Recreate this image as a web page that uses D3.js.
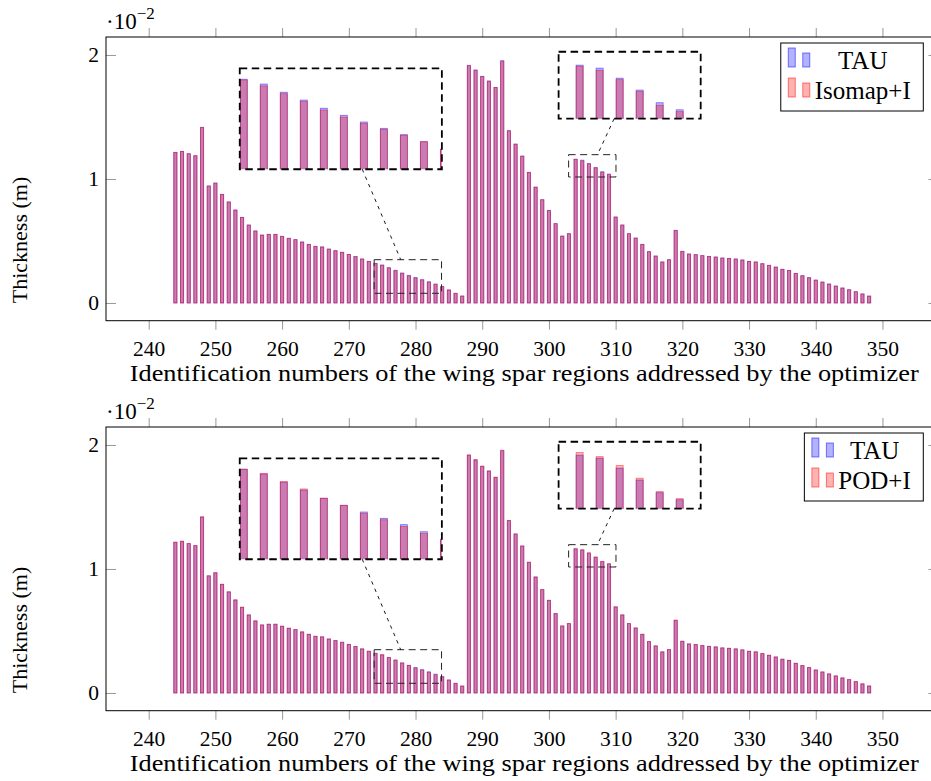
<!DOCTYPE html>
<html>
<head>
<meta charset="utf-8">
<script src="https://cdn.jsdelivr.net/npm/d3@7"></script>
<style>
  body { margin: 0; background: #fff; }
  svg { display: block; font-family: "Liberation Serif", "DejaVu Serif", serif; }
</style>
</head>
<body>
<div id="chart"></div>
<script>
// region ids 244..348, thickness in 1e-2 m
const regions = d3.range(244, 349)

const tau = [
  1.215, 1.223, 1.204, 1.188, 1.417, 0.944, 0.968, 0.876, 0.815, 0.750,
  0.691, 0.629, 0.581, 0.548, 0.554, 0.554, 0.538, 0.522, 0.511, 0.492,
  0.473, 0.457, 0.452, 0.435, 0.422, 0.409, 0.392, 0.374, 0.355, 0.336,
  0.320, 0.307, 0.285, 0.264, 0.242, 0.223, 0.205, 0.188, 0.171, 0.152,
  0.132, 0.105, 0.078, 0.056, 1.917, 1.879, 1.828, 1.790, 1.739, 1.954,
  1.390, 1.282, 1.185, 1.054, 0.935, 0.833, 0.747, 0.640, 0.540, 0.559,
  1.160, 1.152, 1.125, 1.093, 1.059, 1.040, 0.694, 0.629, 0.559, 0.524,
  0.473, 0.414, 0.379, 0.331, 0.349, 0.586, 0.417, 0.395, 0.390, 0.382,
  0.376, 0.371, 0.363, 0.360, 0.355, 0.347, 0.336, 0.331, 0.317, 0.304,
  0.290, 0.272, 0.263, 0.239, 0.220, 0.204, 0.185, 0.169, 0.153, 0.137,
  0.121, 0.107, 0.091, 0.073, 0.056
]

const isomap = [
  1.213, 1.222, 1.203, 1.187, 1.414, 0.943, 0.966, 0.875, 0.814, 0.749,
  0.690, 0.628, 0.580, 0.547, 0.553, 0.553, 0.537, 0.521, 0.510, 0.491,
  0.472, 0.456, 0.451, 0.434, 0.421, 0.408, 0.391, 0.373, 0.354, 0.335,
  0.318, 0.302, 0.281, 0.260, 0.237, 0.218, 0.201, 0.185, 0.169, 0.152,
  0.131, 0.105, 0.078, 0.056, 1.913, 1.877, 1.826, 1.789, 1.737, 1.949,
  1.388, 1.280, 1.184, 1.052, 0.933, 0.832, 0.746, 0.639, 0.539, 0.558,
  1.157, 1.146, 1.121, 1.089, 1.052, 1.035, 0.692, 0.628, 0.558, 0.523,
  0.472, 0.413, 0.378, 0.330, 0.348, 0.584, 0.416, 0.394, 0.389, 0.381,
  0.375, 0.370, 0.362, 0.359, 0.354, 0.346, 0.335, 0.330, 0.316, 0.303,
  0.289, 0.271, 0.262, 0.238, 0.219, 0.203, 0.184, 0.168, 0.152, 0.136,
  0.120, 0.106, 0.090, 0.072, 0.055
]

const pod = [
  1.217, 1.224, 1.205, 1.189, 1.422, 0.945, 0.972, 0.877, 0.816, 0.751,
  0.692, 0.630, 0.582, 0.549, 0.555, 0.555, 0.539, 0.523, 0.512, 0.493,
  0.474, 0.458, 0.453, 0.436, 0.423, 0.409, 0.392, 0.374, 0.356, 0.337,
  0.320, 0.309, 0.287, 0.267, 0.242, 0.223, 0.201, 0.184, 0.166, 0.147,
  0.130, 0.104, 0.078, 0.056, 1.921, 1.883, 1.830, 1.791, 1.741, 1.958,
  1.392, 1.283, 1.186, 1.055, 0.936, 0.834, 0.748, 0.641, 0.541, 0.560,
  1.167, 1.156, 1.132, 1.098, 1.062, 1.043, 0.695, 0.630, 0.560, 0.525,
  0.474, 0.415, 0.380, 0.332, 0.350, 0.588, 0.418, 0.396, 0.391, 0.383,
  0.377, 0.372, 0.364, 0.361, 0.356, 0.348, 0.337, 0.332, 0.318, 0.305,
  0.291, 0.273, 0.264, 0.240, 0.221, 0.205, 0.186, 0.170, 0.154, 0.138,
  0.122, 0.108, 0.092, 0.074, 0.057
]

const xTicks = [240, 250, 260, 270, 280, 290, 300, 310, 320, 330, 340, 350]
const yTicks = [0, 1, 2]

const xLabel = "Identification numbers of the wing spar regions addressed by the optimizer"
const yLabel = "Thickness (m)"

// spy windows: centre of magnified area, its size, and where the magnified copy sits (data units)
const spies = [
  {cx: 278.85, cy: 0.2135, w: 10.1, h: 0.271, tx: 268.8, ty: 1.485},
  {cx: 306.5, cy: 1.106, w: 7.1, h: 0.18, tx: 312.1, ty: 1.756}
]
const mag = 3

const panels = [
  {top: 0, name: "Isomap+I", values: isomap},
  {top: 390, name: "POD+I", values: pod}
]

const width = 931
const height = 781
const margin = {top: 37, right: 938.5, bottom: 320.7, left: 106}

const blue = "rgb(0,0,255)"
const red = "rgb(255,0,0)"

const svg = d3.select("#chart").append("svg")
  .attr("width", width)
  .attr("height", height)

const x = d3.scaleLinear().domain([233.6, 358.4]).range([margin.left, margin.right])
const y = d3.scaleLinear().domain([-0.143, 2.145]).range([margin.bottom, margin.top])

const drawBars = (g, xs, ys, vals, color, w) => {
  g.selectAll(null)
    .data(regions)
    .join("rect")
    .attr("x", (d) => xs(d) - w / 2)
    .attr("width", w)
    .attr("y", (d, i) => ys(vals[i]))
    .attr("height", (d, i) => ys(0) - ys(vals[i]))
    .attr("fill", color)
    .attr("fill-opacity", 0.3)
    .attr("stroke", color)
    .attr("stroke-opacity", 0.5)
    .attr("stroke-width", 0.8)
}

panels.forEach((p, pi) => {
  const g = svg.append("g").attr("transform", `translate(0, ${p.top})`)

  // main bars
  const bars = g.append("g")
  drawBars(bars, x, y, tau, blue, 3.2)
  drawBars(bars, x, y, p.values, red, 3.2)

  // axes
  const gray = "#8c8c8c"
  const styleTicks = (a) => a
    .call((a) => a.select(".domain").remove())
    .call((a) => a.selectAll(".tick line").attr("stroke", gray).attr("stroke-width", 0.9))
    .attr("font-family", null)

  g.append("g")
    .attr("transform", `translate(0, ${margin.bottom})`)
    .call(d3.axisBottom(x).tickValues(xTicks).tickSize(9).tickPadding(11))
    .call(styleTicks)
    .attr("font-size", 21.5)
    .selectAll("text").attr("fill", "#000")

  g.append("g")
    .attr("transform", `translate(0, ${margin.top})`)
    .call(d3.axisTop(x).tickValues(xTicks).tickSize(9).tickFormat(""))
    .call(styleTicks)

  g.append("g")
    .attr("transform", `translate(${margin.left}, 0)`)
    .call(d3.axisLeft(y).tickValues(yTicks).tickSize(-10).tickPadding(7).tickFormat(d3.format("d")))
    .call(styleTicks)
    .attr("font-size", 21.5)
    .selectAll("text").attr("fill", "#000")

  g.append("g")
    .attr("transform", `translate(${margin.right}, 0)`)
    .call(d3.axisRight(y).tickValues(yTicks).tickSize(-10).tickFormat(""))
    .call(styleTicks)

  g.append("rect")
    .attr("x", margin.left)
    .attr("y", margin.top)
    .attr("width", margin.right - margin.left)
    .attr("height", margin.bottom - margin.top)
    .attr("fill", "none")
    .attr("stroke", "#000")
    .attr("stroke-width", 1)

  // scale factor label
  const sf = g.append("text")
    .attr("x", 106)
    .attr("y", 29)
    .attr("font-size", 23)
  sf.append("tspan").text("·10")
  sf.append("tspan").attr("font-size", 17).attr("dy", -10).text("−2")

  // spies
  spies.forEach((s, si) => {
    const sx0 = x(s.cx - s.w / 2), sx1 = x(s.cx + s.w / 2)
    const sy0 = y(s.cy + s.h / 2), sy1 = y(s.cy - s.h / 2)
    const bw = (sx1 - sx0) * mag, bh = (sy1 - sy0) * mag
    const bcx = x(s.tx), bcy = y(s.ty)
    const bx0 = bcx - bw / 2, by0 = bcy - bh / 2

    const xi = d3.scaleLinear().domain([s.cx - s.w / 2, s.cx + s.w / 2]).range([bx0, bx0 + bw])
    const yi = d3.scaleLinear().domain([s.cy - s.h / 2, s.cy + s.h / 2]).range([by0 + bh, by0])

    g.append("rect")
      .attr("x", sx0).attr("y", sy0)
      .attr("width", sx1 - sx0).attr("height", sy1 - sy0)
      .attr("fill", "none")
      .attr("stroke", "#222")
      .attr("stroke-width", 1)
      .attr("stroke-dasharray", "7,4.5")

    const clipId = `clip-${pi}-${si}`
    g.append("clipPath").attr("id", clipId)
      .append("rect")
      .attr("x", bx0).attr("y", by0).attr("width", bw).attr("height", bh)

    g.append("rect")
      .attr("x", bx0).attr("y", by0).attr("width", bw).attr("height", bh)
      .attr("fill", "#fff")

    const ib = g.append("g").attr("clip-path", `url(#${clipId})`)
    drawBars(ib, xi, yi, tau, blue, 7)
    drawBars(ib, xi, yi, p.values, red, 7)

    g.append("rect")
      .attr("x", bx0).attr("y", by0).attr("width", bw).attr("height", bh)
      .attr("fill", "none")
      .attr("stroke", "#000")
      .attr("stroke-width", 1.8)
      .attr("stroke-dasharray", "7.5,4.5")

    // connecting line, centre to centre, kept outside both windows
    const scx = (sx0 + sx1) / 2, scy = (sy0 + sy1) / 2
    const dx = scx - bcx, dy = scy - bcy
    const t1 = Math.min(bw / 2 / Math.abs(dx), bh / 2 / Math.abs(dy))
    const t2 = 1 - Math.min((sx1 - sx0) / 2 / Math.abs(dx), (sy1 - sy0) / 2 / Math.abs(dy))
    g.append("line")
      .attr("x1", bcx + dx * t1).attr("y1", bcy + dy * t1)
      .attr("x2", bcx + dx * t2).attr("y2", bcy + dy * t2)
      .attr("stroke", "#000")
      .attr("stroke-width", 0.9)
      .attr("stroke-dasharray", "3.5,4.5")
  })

  // legend
  const series = [{name: "TAU", color: blue}, {name: p.name, color: red}]
  const lg = g.append("g")
  const texts = series.map((s) => lg.append("text").attr("font-size", 25).attr("text-anchor", "middle").text(s.name))
  const tw = d3.max(texts, (t) => t.node().getComputedTextLength())
  const lr = 923.3
  const ll = lr - 12.5 - tw - 5 - 22 - 7
  lg.insert("rect", "text")
    .attr("x", ll).attr("y", 43)
    .attr("width", lr - ll).attr("height", 68)
    .attr("fill", "#fff")
    .attr("stroke", "#000")
    .attr("stroke-width", 1)
  series.forEach((s, i) => {
    const base = 67 + i * 30
    lg.append("rect").attr("x", ll + 7.5).attr("y", base - 19).attr("width", 7).attr("height", 19)
      .attr("fill", s.color).attr("fill-opacity", 0.3)
      .attr("stroke", s.color).attr("stroke-opacity", 0.5)
    lg.append("rect").attr("x", ll + 22).attr("y", base - 14).attr("width", 7).attr("height", 14)
      .attr("fill", s.color).attr("fill-opacity", 0.3)
      .attr("stroke", s.color).attr("stroke-opacity", 0.5)
    texts[i].attr("x", ll + 34 + tw / 2).attr("y", base + 1.5)
  })

  // axis titles
  g.append("text")
    .attr("x", (margin.left + margin.right) / 2 + 2)
    .attr("y", 381)
    .attr("text-anchor", "middle")
    .attr("font-size", 24)
    .attr("textLength", 789)
    .attr("lengthAdjust", "spacingAndGlyphs")
    .text(xLabel)

  g.append("text")
    .attr("transform", `translate(27, 240) rotate(-90)`)
    .attr("text-anchor", "middle")
    .attr("font-size", 22)
    .text(yLabel)
})
</script>
</body>
</html>
